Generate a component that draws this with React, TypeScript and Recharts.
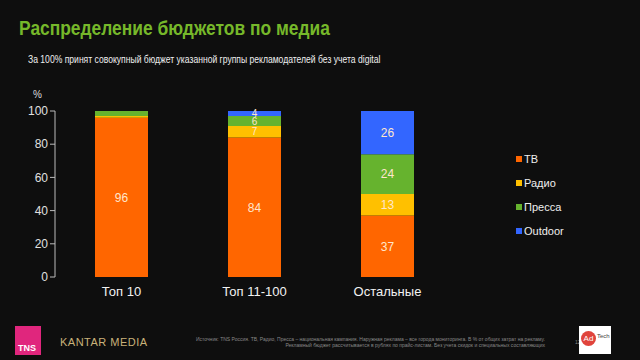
import React from "react"
import { Bar, BarChart, LabelList, XAxis, YAxis } from "recharts"

const groups = ["Топ 10", "Топ 11-100", "Остальные"]
const tv = [96, 84, 37]
const radio = [1, 7, 13]
const press = [3, 6, 24]
const outdoor = [0, 4, 26]
const yTicks = [0, 20, 40, 60, 80, 100]

const series = [
  { key: "tv", name: "ТВ", color: "#ff6600" },
  { key: "radio", name: "Радио", color: "#ffc000" },
  { key: "press", name: "Пресса", color: "#66b32e" },
  { key: "outdoor", name: "Outdoor", color: "#3366ff" },
]

const data = groups.map((g, i) => ({
  name: g,
  tv: tv[i],
  radio: radio[i],
  press: press[i],
  outdoor: outdoor[i],
}))

const font = "'Liberation Sans', Arial, sans-serif"

export default function App() {
  return (
    <div
      style={{
        position: "absolute",
        left: 0,
        top: 0,
        width: 640,
        height: 360,
        background: "#0e0e0e",
        fontFamily: font,
        overflow: "hidden",
      }}
    >
      {/* the slide's fonts are narrower than Liberation Sans */}
      <div
        style={{
          position: "absolute",
          left: 19,
          top: 17,
          fontSize: 20,
          fontWeight: "bold",
          color: "#76b82a",
          whiteSpace: "nowrap",
          transform: "scaleX(0.87)",
          transformOrigin: "left top",
        }}
      >
        Распределение бюджетов по медиа
      </div>
      <div
        style={{
          position: "absolute",
          left: 28,
          top: 53,
          fontSize: 11,
          color: "#eee",
          whiteSpace: "nowrap",
          transform: "scaleX(0.78)",
          transformOrigin: "left top",
        }}
      >
        За 100% принят совокупный бюджет указанной группы рекламодателей без учета digital
      </div>
      <div style={{ position: "absolute", left: 33, top: 89, fontSize: 10, color: "#ddd" }}>%</div>

      <BarChart
        width={640}
        height={360}
        data={data}
        margin={{ top: 111, right: 186, bottom: 53, left: 15 }}
        barSize={53}
        style={{ position: "absolute", left: 0, top: 0 }}
      >
        <XAxis
          dataKey="name"
          axisLine={false}
          tickLine={false}
          height={30}
          tick={{ fill: "#f2f2f2", fontSize: 13, dy: 2 }}
        />
        <YAxis
          domain={[0, 100]}
          ticks={yTicks}
          allowDataOverflow
          width={40}
          axisLine={{ stroke: "#bbbbbb" }}
          tickLine={{ stroke: "#bbbbbb" }}
          tickSize={5}
          tick={{ fill: "#e0e0e0", fontSize: 12 }}
        />
        {series.map((s) => (
          <Bar key={s.key} dataKey={s.key} name={s.name} stackId="a" fill={s.color} isAnimationActive={false}>
            {/* big segments */}
            <LabelList
              dataKey={s.key}
              position="center"
              fill="#ffe6cc"
              fontSize={12}
              formatter={(v: number) => (v >= 10 ? v : "")}
            />
            {/* thin segments, tiny ones (<4) not labelled */}
            <LabelList
              dataKey={s.key}
              position="center"
              fill="#ffe6cc"
              fontSize={10}
              formatter={(v: number) => (v >= 4 && v < 10 ? v : "")}
            />
          </Bar>
        ))}
      </BarChart>

      <div style={{ position: "absolute", left: 516, top: 147, fontSize: 11, color: "#eee" }}>
        {series.map((s) => (
          <div key={s.key} style={{ display: "flex", alignItems: "center", height: 24 }}>
            <span style={{ width: 6, height: 6, background: s.color, marginRight: 2 }} />
            {s.name}
          </div>
        ))}
      </div>

      <div style={{ position: "absolute", left: 15, top: 326, width: 26, height: 29, background: "#e0267d" }}>
        <div style={{ position: "absolute", left: 3, bottom: 2, fontSize: 9, fontWeight: "bold", color: "#fff" }}>TNS</div>
      </div>
      <div style={{ position: "absolute", left: 60, top: 336, fontSize: 11, color: "#c9b27a", letterSpacing: 0.5 }}>
        KANTAR MEDIA
      </div>
      <div
        style={{
          position: "absolute",
          left: 140,
          top: 336,
          width: 405,
          fontSize: 5,
          lineHeight: "6px",
          color: "#888",
          textAlign: "right",
          whiteSpace: "nowrap",
        }}
      >
        Источник: TNS Россия. ТВ, Радио, Пресса – национальная кампания. Наружная реклама – все города мониторинга. В % от общих затрат на рекламу.
        <br />
        Рекламный бюджет рассчитывается в рублях по прайс-листам. Без учета скидок и специальных составляющих
      </div>
      <div style={{ position: "absolute", left: 575, top: 339, fontSize: 5, color: "#888" }}>12</div>
      <div style={{ position: "absolute", left: 579, top: 326, width: 32, height: 28, background: "#fff" }}>
        <div
          style={{
            position: "absolute",
            left: 2,
            top: 5,
            width: 15,
            height: 15,
            borderRadius: 8,
            background: "#e0443c",
            color: "#fff",
            fontSize: 8,
            lineHeight: "15px",
            textAlign: "center",
          }}
        >
          Ad
        </div>
        <div style={{ position: "absolute", left: 18, top: 7, fontSize: 6, color: "#444" }}>Tech</div>
      </div>
    </div>
  )
}
